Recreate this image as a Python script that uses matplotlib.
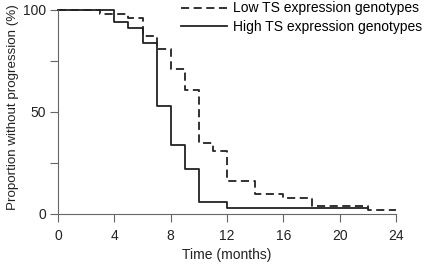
import matplotlib
matplotlib.use("Agg")
import matplotlib.pyplot as plt

plt.rcParams['font.family'] = ['Liberation Sans', 'DejaVu Sans']

# Kaplan-Meier steps
low_t = [0, 3, 5, 6, 7, 8, 9, 10, 11, 12, 14, 16, 18, 22, 24]
low_pct = [100, 98, 96, 87, 81, 71, 61, 35, 31, 16, 10, 8, 4, 2, 2]
high_t = [0, 4, 5, 6, 7, 8, 9, 10, 12, 22]
high_pct = [100, 94, 91, 84, 53, 34, 22, 6, 3, 3]

xticks = [0, 4, 8, 12, 16, 20, 24]
yticks = [0, 50, 100]

fig = plt.figure(figsize=(4.24, 2.66), dpi=100)
ax = fig.add_axes([0.1368, 0.1955, 0.7972, 0.767])

ax.step(low_t, low_pct, where='post', color='#222222', lw=1.3,
        dashes=(4.5, 2.5), label='Low TS expression genotypes', clip_on=False)
ax.step(high_t, high_pct, where='post', color='#222222', lw=1.3,
        label='High TS expression genotypes', clip_on=False)

ax.set_xlim(0, 24)
ax.set_ylim(0, 100)
ax.set_xticks(xticks)
ax.set_yticks(yticks)
ax.set_yticks([25, 75], minor=True)
ax.tick_params(which='both', direction='out', length=5.5, width=0.8,
               colors='#666666', labelcolor='#222222', labelsize=10)
ax.tick_params(axis='x', pad=5)
ax.tick_params(axis='y', pad=3)

for s in ['top', 'right']:
    ax.spines[s].set_visible(False)
for s in ['left', 'bottom']:
    ax.spines[s].set_color('#666666')
    ax.spines[s].set_linewidth(0.8)

ax.set_xlabel('Time (months)', fontsize=10, color='#222222', va='center')
ax.xaxis.set_label_coords(0.5, -0.2)
ax.set_ylabel('Proportion without progression (%)', fontsize=9.6,
              color='#222222', va='center')
ax.yaxis.set_label_coords(-0.133, 0.525)

ax.legend(loc='upper right', bbox_to_anchor=(1.0, 1.0),
          bbox_transform=fig.transFigure, frameon=False, fontsize=10,
          handlelength=3.3, handletextpad=0.5, labelspacing=0.3,
          borderpad=0.0, borderaxespad=0.1)

fig.savefig('out.png', dpi=100)
